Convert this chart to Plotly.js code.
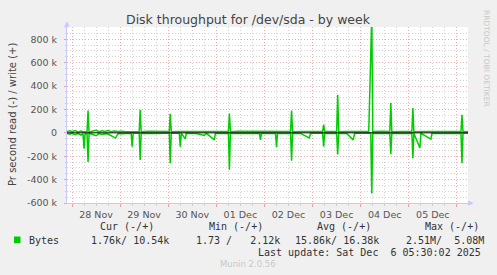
<!DOCTYPE html>
<html><head><meta charset="utf-8">
<script src="https://cdn.plot.ly/plotly-3.0.1.min.js"></script>
<style>html,body{margin:0;padding:0;background:#f0f0f0;}#chart{width:497px;height:275px;}</style>
</head><body><div id="chart"></div>
<script>
// hours from 2025-11-28 00:00, values in kB/s
const writeHours = [-2.5,-1,0,1.5,3,4.5,5.5,7.5,8,8.5,10,12,13.5,15,16.5,18,19.5,21,23,25,27,30,33.5,34,34.5,38,42,46,48.5,49,49.5,53,57,61,65,69,73,78,78.5,79,83,88,92,96,100,105,109,109.5,110,114,118,122,125,125.5,126,129,132,132.5,133,136,140,144,148,149.5,150,154,158.5,159,159.5,164,169.5,170,170.5,175,180,185,190,194,194.5,195,197.5];
const writeK     = [12,18,9,20,8,15,10,10,190,6,14,22,10,18,12,20,9,16,11,14,10,12,12,198,10,14,12,13,12,163,10,12,11,13,12,12,11,12,165,10,13,12,11,14,12,13,12,190,10,12,11,13,12,70,12,11,12,325,10,12,11,14,12,1000,12,13,12,255,10,12,12,212,10,12,11,12,11,12,155,10,11];
const readHours  = [-2.5,-1,0,1.5,3,4.5,5.5,6,6.5,7.5,8,8.5,10,12,13.5,15,16.5,18,21.7,23,25,27,29.5,30,30.5,33.5,34,34.5,38,42,46,48.5,49,49.5,53.5,54,54.5,56.5,57,62,66,67,71,71.5,75,78,78.5,79,85,90,93.5,94,94.5,98,101.5,102,102.5,106,109,109.5,110,114,118.3,119,122,125,125.5,126,129,132,132.5,133,137,140.2,141,145,149,149.5,150,155,158.5,159,159.5,165,169.5,170,170.5,173.5,174,179,179.5,185,190,194,194.5,195,197.5];
const readK      = [5,12,4,15,6,20,8,135,10,8,250,5,12,25,6,15,8,10,45,5,8,4,4,118,4,4,232,4,6,5,4,4,260,4,4,118,4,52,4,5,23,4,60,4,5,4,315,4,5,4,4,60,4,5,4,120,4,5,4,238,4,5,43,4,5,4,118,4,5,4,185,4,5,60,4,5,4,518,4,5,4,183,4,5,4,217,4,130,4,54,4,5,4,4,260,4,3];
const dayLabels  = ['28 Nov','29 Nov','30 Nov','01 Dec','02 Dec','03 Dec','04 Dec','05 Dec',''];
const yTickVals  = [-600000,-400000,-200000,0,200000,400000,600000,800000];
const yTickText  = ['-600 k','-400 k','-200 k','0','200 k','400 k','600 k','800 k'];
const statHeaders = ['Cur (-/+)','Min (-/+)','Avg (-/+)','Max (-/+)'];
const statValues  = ['1.76k/ 10.54k','1.73 /   2.12k','15.86k/ 16.38k','2.51M/  5.08M'];
const seriesName = 'Bytes';
const lastUpdate = 'Last update: Sat Dec  6 05:30:02 2025';

const T0 = Date.UTC(2025,10,28,0,0,0);
const HR = 3600e3;
const toT = h => T0 + h*HR;

const L=67,R=468,T=27,B=203,W=R-L,H=B-T;
const px = x => (x-L)/W, py = y => (B-y)/H;
const nb = s => s.replace(/ /g,'\u00a0');

const green = '#00cc00';
const traces = [
  {x: writeHours.map(toT), y: writeK.map(v=>v*1000), type:'scatter', mode:'lines', line:{color:green,width:1.5}, hoverinfo:'skip'},
  {x: readHours.map(toT), y: readK.map(v=>-v*1000), type:'scatter', mode:'lines', line:{color:green,width:1.5}, hoverinfo:'skip'}
];

const mono = {family:'DejaVu Sans Mono', size:10, color:'#333'};
const ann = [];
const hdrX = [98,207,315,423];
statHeaders.forEach((t,i)=>ann.push({xref:'paper',yref:'paper',x:px(hdrX[i]),y:py(227),xanchor:'left',yanchor:'middle',text:nb(t),showarrow:false,font:mono}));
ann.push({xref:'paper',yref:'paper',x:px(26.5),y:py(240),xanchor:'left',yanchor:'middle',text:seriesName,showarrow:false,font:mono});
const valX = [89,194,293,404];
statValues.forEach((t,i)=>ann.push({xref:'paper',yref:'paper',x:px(valX[i]),y:py(240),xanchor:'left',yanchor:'middle',text:nb(t),showarrow:false,font:mono}));
ann.push({xref:'paper',yref:'paper',x:px(483),y:py(252),xanchor:'right',yanchor:'middle',text:nb(lastUpdate),showarrow:false,font:mono});
ann.push({xref:'paper',yref:'paper',x:px(248),y:py(264),xanchor:'center',yanchor:'middle',text:'Munin 2.0.56',showarrow:false,font:{family:'DejaVu Sans',size:8.5,color:'#c8c8c8'}});
ann.push({xref:'paper',yref:'paper',x:px(487),y:py(58),xanchor:'center',yanchor:'middle',text:'RRDTOOL / TOBI OETIKER',textangle:90,showarrow:false,font:{family:'DejaVu Sans',size:7.5,color:'#c8c8c8'}});
ann.push({xref:'paper',yref:'paper',x:px(248),y:py(19),xanchor:'center',yanchor:'middle',text:'Disk throughput for /dev/sda - by week',showarrow:false,font:{family:'DejaVu Sans',size:12.5,color:'#444'}});
ann.push({xref:'paper',yref:'paper',x:px(12),y:py(115),xanchor:'center',yanchor:'middle',text:'Pr second read (-) / write (+)',textangle:-90,showarrow:false,font:{family:'DejaVu Sans',size:10,color:'#444'}});
// axis arrows
ann.push({xref:'paper',yref:'paper',x:px(67),y:py(24),xanchor:'center',yanchor:'middle',text:'▲',showarrow:false,font:{family:'DejaVu Sans',size:7,color:'#c8c8ff'}});
ann.push({xref:'paper',yref:'paper',x:px(471),y:py(203),xanchor:'center',yanchor:'middle',text:'▶',showarrow:false,font:{family:'DejaVu Sans',size:7,color:'#c8c8ff'}});

const shapes = [
  {type:'line',xref:'paper',yref:'y',x0:0,x1:1,y0:0,y1:0,line:{color:'#000',width:1},layer:'above'},
  {type:'rect',xref:'paper',yref:'paper',x0:px(14),x1:px(20.5),y0:py(243),y1:py(236.5),fillcolor:green,line:{width:0}},
  {type:'line',xref:'paper',yref:'paper',x0:0,x1:0,y0:1,y1:py(22),line:{color:'#c8c8ff',width:1}},
  {type:'line',xref:'paper',yref:'paper',x0:1,x1:px(472),y0:0,y1:0,line:{color:'#c8c8ff',width:1}}
];

const tickVals = dayLabels.map((_,i)=>T0 + i*24*HR);
const tickFont = {family:'DejaVu Sans',size:9.5,color:'#555'};
const layout = {
  width:497,height:275,
  margin:{l:L,r:497-R,t:T,b:275-B,pad:0},
  paper_bgcolor:'#f0f0f0',plot_bgcolor:'#ffffff',
  showlegend:false,
  xaxis:{type:'date',range:[toT(-2.5),toT(197.5)],tickmode:'array',tickvals:tickVals,ticktext:dayLabels,
    ticklabelshift:24,ticks:'outside',ticklen:3,tickcolor:'#e8a0a0',tickfont:tickFont,
    showgrid:true,gridcolor:'#eab0b0',griddash:'1px,2px',gridwidth:1,zeroline:false,
    showline:true,linecolor:'#c8c8ff',linewidth:1,
    minor:{tick0:T0,dtick:6*HR,showgrid:true,gridcolor:'#d4d4d4',griddash:'1px,2px',ticks:'outside',ticklen:2,tickcolor:'#d0d0d0'},
    fixedrange:true},
  yaxis:{range:[-600000,905000],tickmode:'array',tickvals:yTickVals,ticktext:yTickText,
    ticks:'outside',ticklen:2,tickcolor:'#e8a0a0',tickfont:tickFont,ticklabelstandoff:5,
    showgrid:true,gridcolor:'#eab0b0',griddash:'1px,2px',gridwidth:1,zeroline:false,
    showline:true,linecolor:'#c8c8ff',linewidth:1,
    minor:{tick0:0,dtick:50000,showgrid:true,gridcolor:'#d4d4d4',griddash:'1px,2px',ticks:'outside',ticklen:1,tickcolor:'#d0d0d0'},
    fixedrange:true},
  annotations:ann,shapes:shapes
};
Plotly.newPlot('chart',traces,layout,{staticPlot:true,displayModeBar:false});
</script></body></html>
